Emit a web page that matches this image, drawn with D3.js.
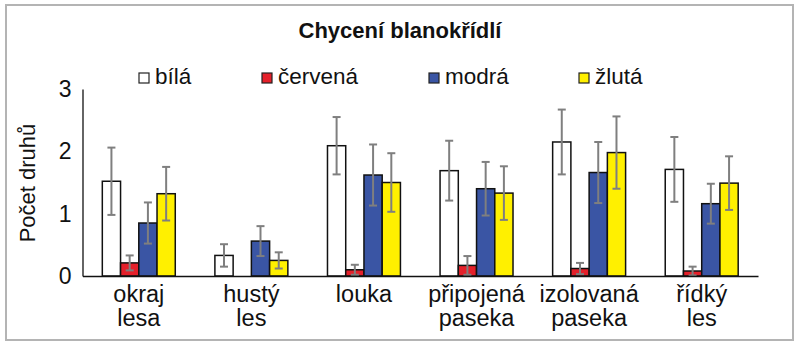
<!DOCTYPE html>
<html><head><meta charset="utf-8">
<script src="https://cdn.jsdelivr.net/npm/d3@7"></script>
<style>body{margin:0;background:#fff}svg{display:block}</style>
</head><body>
<script>
const categories = [["okraj","lesa"],["hustý","les"],["louka"],["připojená","paseka"],["izolovaná","paseka"],["řídký","les"]];
const seriesNames = ["bílá","červená","modrá","žlutá"];
const seriesColors = ["#ffffff","#e4202a","#3a55a4","#fff000"];
const bila    = [1.52, 0.33, 2.09, 1.69, 2.15, 1.71];
const cervena = [0.21, 0.00, 0.10, 0.17, 0.12, 0.08];
const modra   = [0.85, 0.56, 1.62, 1.40, 1.66, 1.16];
const zluta   = [1.32, 0.25, 1.50, 1.33, 1.98, 1.49];
const bilaErr    = [0.54, 0.18, 0.46, 0.48, 0.52, 0.52];
const cervenaErr = [0.12, 0.00, 0.08, 0.15, 0.09, 0.07];
const modraErr   = [0.33, 0.24, 0.49, 0.43, 0.49, 0.32];
const zlutaErr   = [0.43, 0.13, 0.47, 0.43, 0.58, 0.43];
const yTicks = [0, 1, 2, 3];
const title = "Chycení blanokřídlí";
const yTitle = "Počet druhů";

const values = [bila, cervena, modra, zluta];
const errs = [bilaErr, cervenaErr, modraErr, zlutaErr];
const W = 800, H = 347;
const font = "'Liberation Sans', Arial, Helvetica, sans-serif";

const svg = d3.select("body").append("svg").attr("width", W).attr("height", H)
  .style("font-family", font);
svg.append("rect").attr("x",6).attr("y",5).attr("width",787).attr("height",335)
  .attr("fill","#fff").attr("stroke","#b4b4b4").attr("stroke-width",2);

const catKeys = categories.map(c => c.join(" "));
const x0 = d3.scaleBand().domain(catKeys).range([82.5, 758]).paddingInner(0.352).paddingOuter(0.176);
const x1 = d3.scaleBand().domain(seriesNames).range([0, x0.bandwidth()]);
const y = d3.scaleLinear().domain([0, 3]).range([276, 89]);

// title
svg.append("text").attr("x", 400).attr("y", 38).attr("text-anchor","middle")
  .attr("font-size", 22).attr("font-weight","bold").attr("fill","#111").text(title);

// legend
const legX = [139, 262, 429, 579];
const leg = svg.append("g");
seriesNames.forEach((s, i) => {
  leg.append("rect").attr("x", legX[i]).attr("y", 73).attr("width", 10).attr("height", 10)
    .attr("fill", seriesColors[i]).attr("stroke", "#222").attr("stroke-width", 1.2);
  leg.append("text").attr("x", legX[i] + 16).attr("y", 84).attr("font-size", 22.5)
    .attr("fill","#111").text(s);
});

// y axis
const yAxis = svg.append("g").attr("transform","translate(82.5,0)")
  .call(d3.axisLeft(y).tickValues(yTicks).tickFormat(d3.format("d")).tickSize(0).tickSizeOuter(0).tickPadding(11));
yAxis.select(".domain").attr("stroke","#111").attr("stroke-width",1.3);
yAxis.selectAll("text").attr("font-size", 23).attr("font-family", font).attr("fill","#111");

svg.append("text").attr("transform","translate(35,183) rotate(-90)").attr("text-anchor","middle")
  .attr("font-size", 22).attr("fill","#111").text(yTitle);

// bars
const groups = svg.append("g").selectAll("g").data(catKeys).join("g")
  .attr("transform", d => `translate(${x0(d)},0)`);
groups.each(function(cat, ci) {
  const g = d3.select(this);
  seriesNames.forEach((s, si) => {
    const v = values[si][ci];
    if (v <= 0) return;
    g.append("rect").attr("x", x1(s)).attr("y", y(v)).attr("width", x1.bandwidth())
      .attr("height", y(0) - y(v)).attr("fill", seriesColors[si])
      .attr("stroke","#111").attr("stroke-width",1.5);
  });
  seriesNames.forEach((s, si) => {
    const v = values[si][ci], e = errs[si][ci];
    if (v <= 0 || e <= 0) return;
    const cx = x1(s) + x1.bandwidth()/2;
    const lo = Math.max(0, v - e), hi = v + e;
    g.append("line").attr("x1",cx).attr("x2",cx).attr("y1",y(lo)).attr("y2",y(hi))
      .attr("stroke","#7f7f7f").attr("stroke-width",2);
    [lo, hi].forEach(t => g.append("line").attr("x1",cx-4).attr("x2",cx+4).attr("y1",y(t)).attr("y2",y(t))
      .attr("stroke","#7f7f7f").attr("stroke-width",2));
  });
});

// x axis
const xAxis = svg.append("g").attr("transform","translate(0,276)")
  .call(d3.axisBottom(x0).tickSize(0).tickSizeOuter(0).tickFormat(""));
xAxis.select(".domain").attr("stroke","#111").attr("stroke-width",1.3);
categories.forEach((c, i) => {
  const t = svg.append("text").attr("text-anchor","middle").attr("font-size", 23.5).attr("fill","#111");
  c.forEach((line, li) => {
    t.append("tspan").attr("x", x0(catKeys[i]) + x0.bandwidth()/2).attr("y", 302 + li*24).text(line);
  });
});
</script>
</body></html>
